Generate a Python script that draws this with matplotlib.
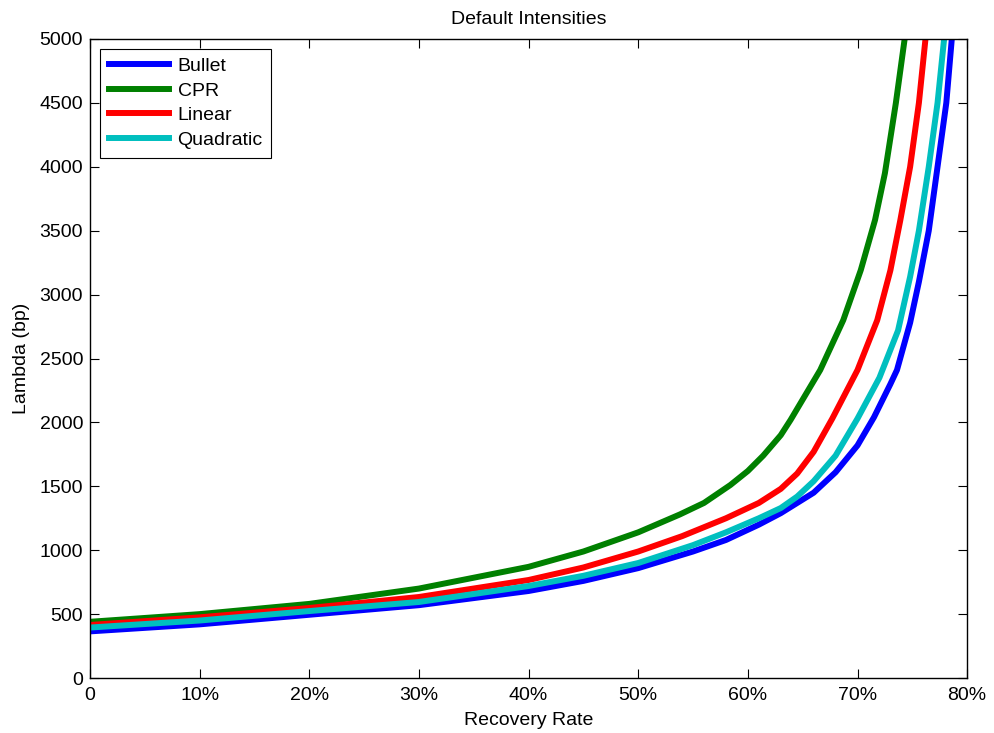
import matplotlib.pyplot as plt

plt.rcParams['font.family'] = ['Liberation Sans', 'DejaVu Sans']
plt.rcParams['font.size'] = 14

# recovery rate (%) and default intensity (bp)
bullet_r = [0, 10, 20, 30, 40, 45, 50, 55, 58, 61, 63, 66, 68, 70, 71.5, 73, 73.6, 74.8, 75.6, 76.5,
            77.3, 78.1, 78.6, 78.9]
bullet_l = [365, 420, 495, 570, 681, 760, 860, 990, 1080, 1200, 1290, 1450, 1610, 1820, 2040, 2300,
            2410, 2780, 3100, 3500, 4000, 4500, 5000, 5300]

cpr_r = [0, 10, 20, 30, 40, 45, 50, 53.8, 56, 58.4, 60, 61.4, 63, 63.9, 66.6, 68.7, 70.3, 71.6, 72.5,
         73.5, 74.3, 74.6]
cpr_l = [440, 500, 580, 700, 870, 990, 1140, 1280, 1370, 1510, 1620, 1740, 1900, 2020, 2410, 2800,
         3192, 3584, 3950, 4500, 5000, 5250]

linear_r = [0, 10, 20, 30, 40, 45, 50, 54, 58, 61, 63, 64.5, 66, 67.7, 70, 71.8, 73, 73.9, 74.8, 75.6,
            76.2, 76.5]
linear_l = [415, 475, 548, 634, 767, 865, 990, 1110, 1250, 1370, 1480, 1600, 1770, 2030, 2410, 2800,
            3190, 3580, 4000, 4500, 5000, 5300]

quad_r = [0, 10, 20, 30, 40, 45, 50, 55, 58, 61, 63, 64.5, 66, 68, 70, 72, 73.7, 74.8, 75.6, 76.5,
          77.3, 77.9, 78.2]
quad_l = [395, 450, 524, 595, 720, 800, 900, 1040, 1140, 1250, 1330, 1420, 1540, 1740, 2030, 2350,
          2720, 3140, 3500, 4000, 4500, 5000, 5300]

x_ticks = [0, 10, 20, 30, 40, 50, 60, 70, 80]
x_labels = ['0', '10%', '20%', '30%', '40%', '50%', '60%', '70%', '80%']
y_ticks = list(range(0, 5001, 500))

fig = plt.figure(figsize=(9.95, 7.33), dpi=100)
ax = fig.add_axes([0.0905, 0.075, 0.8815, 0.8718])

ax.plot(bullet_r, bullet_l, color=(0, 0, 1), lw=4.3, label='Bullet')
ax.plot(cpr_r, cpr_l, color=(0, 0.5, 0), lw=4.3, label='CPR')
ax.plot(linear_r, linear_l, color=(1, 0, 0), lw=4.3, label='Linear')
ax.plot(quad_r, quad_l, color=(0, 0.75, 0.75), lw=4.3, label='Quadratic')

ax.set_xlim(0, 80)
ax.set_ylim(0, 5000)
ax.set_xticks(x_ticks)
ax.set_xticklabels(x_labels)
ax.set_yticks(y_ticks)
ax.tick_params(direction='in', length=6.5, top=True, right=True, labelsize=14)
ax.tick_params(axis='x', pad=6.5)
ax.tick_params(axis='y', pad=5)
for s in ax.spines.values():
    s.set_linewidth(1.0)
#matlab style box with ticks on every side

ax.set_title('Default Intensities', fontsize=14, pad=10.5)
ax.set_xlabel('Recovery Rate', fontsize=14, labelpad=6)
ax.set_ylabel('Lambda (bp)', fontsize=14, labelpad=7)

leg = ax.legend(loc='upper left', fancybox=False, framealpha=1, edgecolor='black',
                handlelength=3.1, borderaxespad=0.5, labelspacing=0.36, handletextpad=0.45,
                borderpad=0.45, fontsize=14)
leg.get_frame().set_linewidth(0.8)

fig.savefig('out.png', dpi=100)
